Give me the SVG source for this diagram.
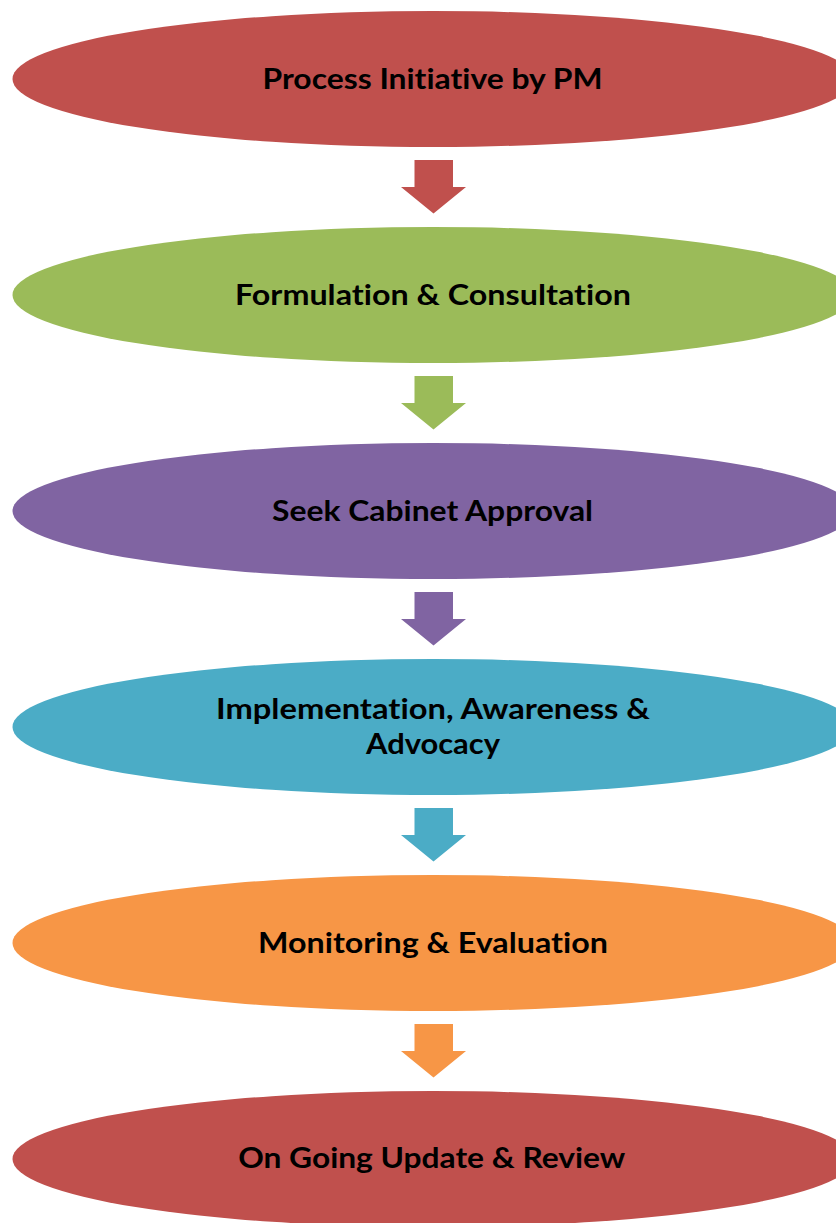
<svg xmlns="http://www.w3.org/2000/svg" width="836" height="1223" viewBox="0 0 836 1223">
  <style>
    .step { stroke: none; }
    .label { font-family: Lato, "Open Sans", "Liberation Sans", sans-serif; font-weight: bold; font-size: 29px; fill: #000000; text-anchor: middle; font-variant-ligatures: none; font-feature-settings: "liga" 0; }
    .red { fill: #C0504D; }
    .green { fill: #9BBB59; }
    .purple { fill: #8064A2; }
    .teal { fill: #4BACC6; }
    .orange { fill: #F79646; }
  </style>
  <defs>
    <!-- block down-arrow, origin at top-centre of the shaft -->
    <polygon id="downArrow" points="-19,0 19.5,0 19.5,27 32.5,27 0,53.5 -32.5,27 -19,27"/>
  </defs>
  <rect width="836" height="1223" fill="#FFFFFF"/>

  <g id="connectors">
    <use href="#downArrow" class="red" x="433.5" y="160"/>
    <use href="#downArrow" class="green" x="433.5" y="376"/>
    <use href="#downArrow" class="purple" x="433.5" y="592"/>
    <use href="#downArrow" class="teal" x="433.5" y="808"/>
    <use href="#downArrow" class="orange" x="433.5" y="1024"/>
  </g>

  <g id="step-initiative">
    <ellipse class="step red" cx="433" cy="79" rx="420.5" ry="68"/>
    <text class="label" x="432.5" y="88.5" textLength="340" lengthAdjust="spacingAndGlyphs">Process Initiative by PM</text>
  </g>

  <g id="step-formulation">
    <ellipse class="step green" cx="433" cy="295" rx="420.5" ry="68"/>
    <text class="label" x="433" y="304.5" textLength="396" lengthAdjust="spacingAndGlyphs">Formulation &amp; Consultation</text>
  </g>

  <g id="step-approval">
    <ellipse class="step purple" cx="433" cy="511" rx="420.5" ry="68"/>
    <text class="label" x="432.5" y="520.5" textLength="321" lengthAdjust="spacingAndGlyphs">Seek Cabinet Approval</text>
  </g>

  <g id="step-implementation">
    <ellipse class="step teal" cx="433" cy="727" rx="420.5" ry="68"/>
    <text class="label" x="433" y="718.5" textLength="434" lengthAdjust="spacingAndGlyphs">Implementation, Awareness &amp;</text>
    <text class="label" x="433" y="753.5" textLength="134" lengthAdjust="spacingAndGlyphs">Advocacy</text>
  </g>

  <g id="step-monitoring">
    <ellipse class="step orange" cx="433" cy="943" rx="420.5" ry="68"/>
    <text class="label" x="433" y="952.5" textLength="350" lengthAdjust="spacingAndGlyphs">Monitoring &amp; Evaluation</text>
  </g>

  <g id="step-review">
    <ellipse class="step red" cx="433" cy="1159" rx="420.5" ry="68"/>
    <text class="label" x="431.7" y="1168" textLength="387" lengthAdjust="spacingAndGlyphs">On Going Update &amp; Review</text>
  </g>
</svg>
